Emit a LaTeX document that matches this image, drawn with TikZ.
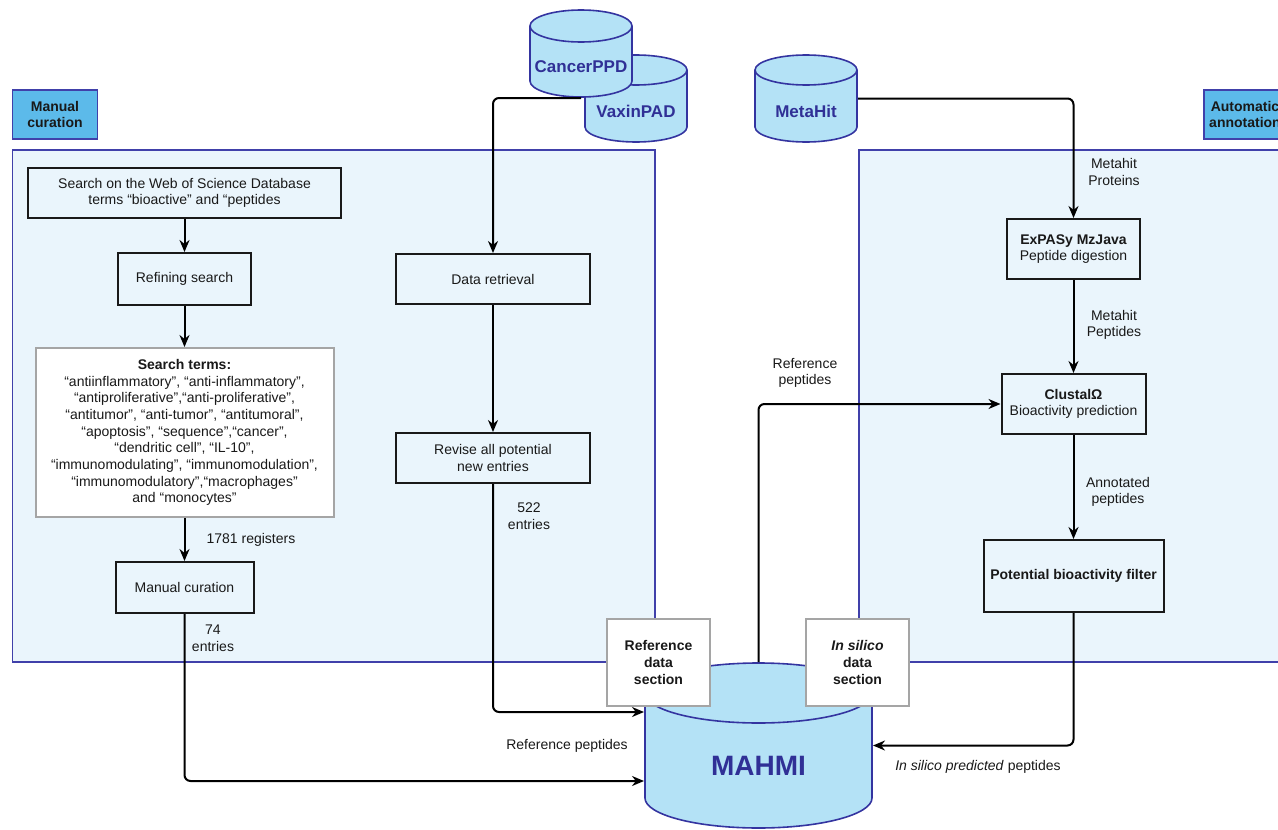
\documentclass[tikz,border=0pt]{standalone}
\usepackage{fontspec}
\setmainfont{Liberation Sans}
\usetikzlibrary{arrows.meta}

\definecolor{panelfill}{RGB}{234,245,252}
\definecolor{panelline}{RGB}{64,64,170}
\definecolor{tagfill}{RGB}{92,186,234}
\definecolor{dbfill}{RGB}{180,226,246}
\definecolor{dbline}{RGB}{52,52,160}
\definecolor{dbink}{RGB}{48,48,150}
\definecolor{secline}{RGB}{165,165,165}

% database cylinder: name, x, top, width, height, ellipse radius, label
\newcommand{\dbcyl}[7]{%
  \filldraw[fill=dbfill, draw=dbline, line width=1.6pt] (#2,#3+#5-#6) ellipse [x radius=#4pt/2, y radius=#6pt];
  \fill[dbfill] (#2-#4/2,#3+#6) rectangle (#2+#4/2,#3+#5-#6);
  \draw[dbline, line width=1.6pt] (#2-#4/2,#3+#6) -- (#2-#4/2,#3+#5-#6)
    (#2+#4/2,#3+#6) -- (#2+#4/2,#3+#5-#6);
  \filldraw[fill=dbfill, draw=dbline, line width=1.6pt] (#2,#3+#6) ellipse [x radius=#4pt/2, y radius=#6pt];
  \node[inner sep=0pt, minimum width=#4pt, minimum height=#5pt] (#1) at (#2,#3+#5/2) {};
  \node[dbtext] (#1 label) at (#2,#3+#5/2+#6/2+5) {#7};
}

\begin{document}
\begin{tikzpicture}[x=1pt, y=-1pt, >={Stealth[length=12pt,width=10pt]}, line width=2pt,
    every node/.style={font=\fontsize{14}{16.7}\selectfont, text=black!90, align=center},
    panel/.style={draw=panelline, fill=panelfill, line width=1.5pt},
    tagbox/.style={draw=panelline, fill=tagfill, line width=1.5pt, font=\fontsize{14}{16.7}\selectfont\bfseries},
    procbox/.style={draw=black!90, line width=2pt},
    termbox/.style={draw=secline, fill=white, line width=2pt},
    secbox/.style={draw=secline, fill=white, line width=2pt, minimum width=103pt, minimum height=87pt, font=\fontsize{14}{16.7}\selectfont\bfseries},
    dbtext/.style={text=dbink, font=\fontsize{17}{19}\selectfont\bfseries},
    lbl/.style={inner sep=0pt}]
    \useasboundingbox (0,0) rectangle (1278,830);

    % Panels
    \node[panel, minimum width=642.5pt, minimum height=512pt] (manpanel) at (333.75,406) {};
    \node[panel, minimum width=441pt, minimum height=512pt] (autopanel) at (1079.5,406) {};
    \node[tagbox, minimum width=85pt, minimum height=49pt] (mantag) at (55,114.5) {Manual\\curation};
    \node[tagbox, minimum width=82pt, minimum height=49pt] (autotag) at (1245,114.5) {Automatic\\annotation};

    % Databases
    \dbcyl{vpad}{636}{55}{102}{87}{15}{VaxinPAD}
    \dbcyl{cpd}{581}{10}{102}{87}{16}{CancerPPD}
    \dbcyl{mh}{806}{55}{102}{87}{15}{MetaHit}

    % Manual curation column
    \node[procbox, minimum width=313pt, minimum height=50pt] (wos) at (184.5,193) {Search on the Web of Science Database\\terms “bioactive” and “peptides};
    \node[procbox, minimum width=133pt, minimum height=52pt, node distance=86pt, below of=wos] (refine) {Refining search};
    \node[termbox, minimum width=298pt, minimum height=169pt, node distance=153.5pt, below of=refine] (terms) {\textbf{Search terms:}\\
      “antiinflammatory”, “anti-inflammatory”,\\
      “antiproliferative”,“anti-proliferative”,\\
      “antitumor”, “anti-tumor”, “antitumoral”,\\
      “apoptosis”, “sequence”,“cancer”,\\
      “dendritic cell”, “IL-10”,\\
      “immunomodulating”, “immunomodulation”,\\
      “immunomodulatory”,“macrophages”\\
      and “monocytes”};
    \node[procbox, minimum width=138pt, minimum height=51pt, node distance=155pt, below of=terms] (curation) {Manual curation};

    % Database column
    \node[procbox, minimum width=194pt, minimum height=50pt] (retr) at (493,279) {Data retrieval};
    \node[procbox, minimum width=194pt, minimum height=50pt, node distance=179pt, below of=retr] (revise) {Revise all potential\\new entries};

    % Automatic annotation column
    \node[procbox, minimum width=133pt, minimum height=60pt] (expasy) at (1073.5,249) {\textbf{ExPASy MzJava}\\Peptide digestion};
    \node[procbox, minimum width=144pt, minimum height=60pt, node distance=155pt, below of=expasy] (clustal) {\textbf{ClustalΩ}\\Bioactivity prediction};
    \node[procbox, minimum width=180pt, minimum height=72pt, node distance=172pt, below of=clustal] (filter) {\textbf{Potential bioactivity filter}};

    % MAHMI
    \dbcyl{mahmi}{758.5}{663}{227}{165}{30}{\fontsize{28}{30}\selectfont MAHMI}
    \node[secbox] (refsec) at (658.5,662.5) {Reference\\data\\section};
    \node[secbox] (silsec) at (857.5,662.5) {\textit{In silico}\\data\\section};

    % Arrows
    \draw[->] (wos) -- (refine);
    \draw[->] (refine) -- (terms);
    \draw[->] (terms) -- (curation);
    \draw[->] (retr) -- (revise);
    \draw[->] (expasy) -- (clustal);
    \draw[->] (clustal) -- (filter);
    \draw[->, rounded corners=6pt] (cpd.south) -| (retr);
    \draw[->, rounded corners=6pt] (mh.east) -| (expasy);
    \draw[->, rounded corners=6pt] (revise) |- ([yshift=33.5pt]mahmi.west);
    \draw[->, rounded corners=6pt] (curation) |- ([yshift=-35.5pt]mahmi.west);
    \draw[->, rounded corners=6pt] (filter) |- (mahmi.east);
    \draw[->, rounded corners=6pt] (mahmi.north) |- (clustal);

    % Labels
    \node[lbl] (lregs) at (251,540) {1781 registers};
    \node[lbl] (lman) at (213,638) {74\\entries};
    \node[lbl] (lnew) at (529,516) {522\\entries};
    \node[lbl] (lrefin) at (567,746) {Reference peptides};
    \node[lbl] (lprot) at (1114,172) {Metahit\\Proteins};
    \node[lbl] (lpep) at (1114,325) {Metahit\\Peptides};
    \node[lbl] (lrefout) at (805,373) {Reference\\peptides};
    \node[lbl] (lann) at (1118,492) {Annotated\\peptides};
    \node[lbl] (lsil) at (978,767) {\textit{In silico predicted} peptides};
\end{tikzpicture}
\end{document}
